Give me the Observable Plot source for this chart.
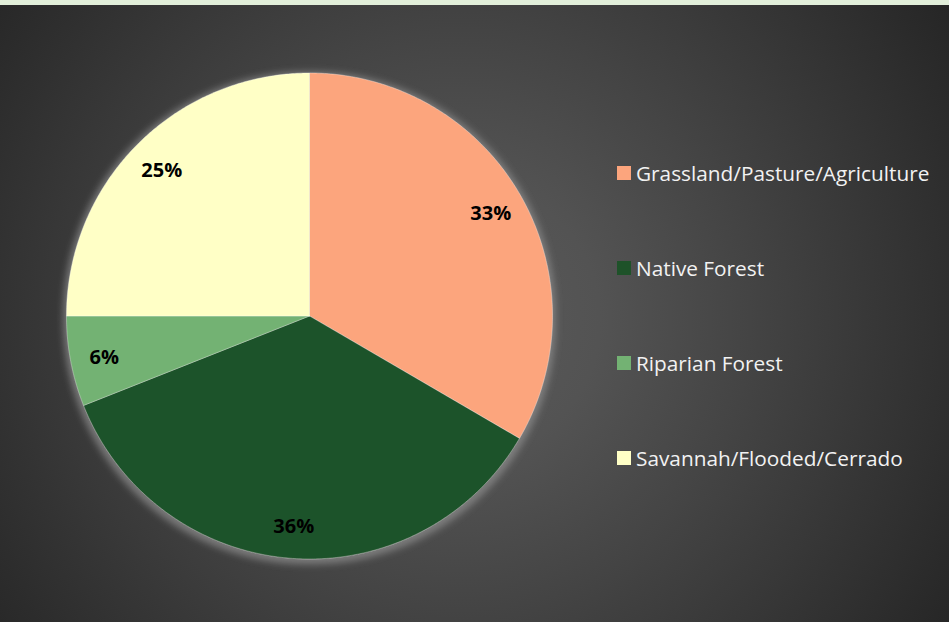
<!DOCTYPE html>
<html>
<head>
<meta charset="utf-8">
<script src="https://cdn.jsdelivr.net/npm/d3@7"></script>
<script src="https://cdn.jsdelivr.net/npm/@observablehq/plot@0.6"></script>
<style>
  html, body { margin: 0; padding: 0; }
  #wrap {
    position: relative; width: 949px; height: 622px; overflow: hidden;
    background: radial-gradient(circle at 460px 320px, #5a5a5a 0px, #535353 140px, #444444 290px, #2c2c2c 520px, #222222 620px);
    font-family: "Open Sans", sans-serif;
  }
  #topbar { position: absolute; left: 0; top: 0; width: 949px; height: 5px; background: #e2efda; }
  #chart { position: absolute; left: 0; top: 0; }
  #legend { position: absolute; left: 617px; top: 0; }
  .item { position: absolute; left: 0; display: flex; align-items: center; white-space: nowrap; color: #f2f2f2; font-size: 20.8px; }
  .sw { width: 14px; height: 14px; margin-right: 5px; }
</style>
</head>
<body>
<div id="wrap">
  <div id="topbar"></div>
  <div id="chart"></div>
  <div id="legend"></div>
</div>
<script>
const categories = ["Grassland/Pasture/Agriculture", "Native Forest", "Riparian Forest", "Savannah/Flooded/Cerrado"];
const values = [33.4, 35.6, 6.0, 25.0];
const colors = ["#fca57d", "#1e5229", "#73b273", "#ffffc6"];
const legendY = [173, 268, 363, 458];

const arcs = d3.pie().sort(null).value(d => d.value)(categories.map((c, i) => ({cat: c, value: values[i]})));

const pts = [];
for (const a of arcs) {
  const cat = a.data.cat;
  pts.push({cat, x: 0, y: 0});
  const n = Math.max(4, Math.ceil((a.endAngle - a.startAngle) / (Math.PI / 360)));
  for (let k = 0; k <= n; k++) {
    const t = a.startAngle + (a.endAngle - a.startAngle) * k / n;
    pts.push({cat, x: Math.sin(t), y: Math.cos(t)});
  }
  pts.push({cat, x: 0, y: 0});
}
const labels = arcs.map(a => {
  const m = (a.startAngle + a.endAngle) / 2;
  return {cat: a.data.cat, x: 0.86 * Math.sin(m), y: 0.86 * Math.cos(m), text: Math.round(a.data.value) + "%"};
});

const plot = Plot.plot({
  width: 949, height: 622,
  margin: 0,
  style: {background: "transparent", overflow: "visible"},
  x: {domain: [-1, 1], range: [66, 552], axis: null},
  y: {domain: [-1, 1], range: [558.5, 72.5], axis: null},
  color: {domain: categories, range: colors},
  marks: [
    Plot.line(pts, {x: "x", y: "y", z: "cat", fill: "cat", stroke: "rgba(255,255,255,0.3)", strokeWidth: 1, curve: "linear"}),
    Plot.text(labels, {x: "x", y: "y", dy: 2, text: "text", fill: "black", fontSize: 20, fontWeight: "bold", fontFamily: "Open Sans"})
  ]
});
document.getElementById("chart").appendChild(plot);

const svg = d3.select(plot);
const defs = svg.insert("defs", ":first-child");
const f = defs.append("filter").attr("id", "glow").attr("x", "-10%").attr("y", "-10%").attr("width", "120%").attr("height", "120%");
f.append("feMorphology").attr("operator", "dilate").attr("radius", 3).attr("in", "SourceAlpha").attr("result", "d");
f.append("feGaussianBlur").attr("in", "d").attr("stdDeviation", 3.5).attr("result", "b");
f.append("feFlood").attr("flood-color", "#8c8c8c").attr("flood-opacity", 0.75).attr("result", "fl");
f.append("feComposite").attr("in", "fl").attr("in2", "b").attr("operator", "in").attr("result", "g");
f.append("feOffset").attr("in", "g").attr("dy", 2).attr("result", "go");
const m = f.append("feMerge");
m.append("feMergeNode").attr("in", "go");
m.append("feMergeNode").attr("in", "SourceGraphic");
svg.select('g[aria-label="line"]').attr("filter", "url(#glow)");

const legend = d3.select("#legend");
categories.forEach((c, i) => {
  const it = legend.append("div").attr("class", "item").style("top", (legendY[i] - 14) + "px").style("height", "28px");
  it.append("div").attr("class", "sw").style("background", colors[i]);
  it.append("span").text(c);
});
</script>
</body>
</html>
